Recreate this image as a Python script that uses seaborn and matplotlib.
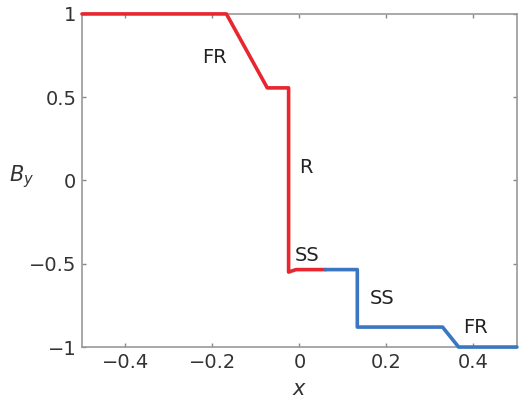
import matplotlib
matplotlib.use("Agg")
import matplotlib.pyplot as plt
import seaborn as sns
import pandas as pd

# red segment (left part)
red_x = [-0.5, -0.168, -0.074, -0.025, -0.025, -0.008, 0.06]
red_y = [1.0, 1.0, 0.556, 0.556, -0.55, -0.535, -0.535]
# blue segment (right part)
blue_x = [0.06, 0.133, 0.133, 0.329, 0.366, 0.5]
blue_y = [-0.535, -0.535, -0.88, -0.88, -1.0, -1.0]

labels = ["FR", "R", "SS", "SS", "FR"]
label_x = [-0.195, 0.015, 0.018, 0.19, 0.405]
label_y = [0.74, 0.08, -0.45, -0.71, -0.88]

sns.set_style("white")
plt.rcParams['font.family'] = ['DejaVu Sans']

fig = plt.figure(figsize=(5.19, 3.98), dpi=100)
ax = fig.add_axes([0.158, 0.128, 0.838, 0.837])

df_r = pd.DataFrame({"x": red_x, "y": red_y})
df_b = pd.DataFrame({"x": blue_x, "y": blue_y})
sns.lineplot(data=df_r, x="x", y="y", sort=False, estimator=None, color="#e8262f", lw=2.6, ax=ax)
sns.lineplot(data=df_b, x="x", y="y", sort=False, estimator=None, color="#3a77c0", lw=2.6, ax=ax)
for ln in ax.lines:
    ln.set_clip_on(False)
    ln.set_zorder(3)

for t, lx, ly in zip(labels, label_x, label_y):
    ax.text(lx, ly, t, fontsize=14, ha="center", va="center", color="#222222")

ax.set_xlim(-0.5, 0.5)
ax.set_ylim(-1, 1)
ax.set_xticks([-0.4, -0.2, 0, 0.2, 0.4])
ax.set_xticklabels(["\u22120.4", "\u22120.2", "0", "0.2", "0.4"])
ax.set_yticks([-1, -0.5, 0, 0.5, 1])
ax.set_yticklabels(["\u22121", "\u22120.5", "0", "0.5", "1"])
ax.tick_params(direction="in", length=3, width=1, color="#888888", labelsize=14,
               labelcolor="#333333", pad=4, bottom=True, left=True, top=True, right=True)
for s in ax.spines.values():
    s.set_color("#999999")
    s.set_linewidth(1.2)
ax.set_xlabel("$x$", fontsize=15, color="#333333")
ax.xaxis.set_label_coords(0.5, -0.095)
ax.set_ylabel("$B_y$", fontsize=15, rotation=0, color="#333333")
ax.yaxis.set_label_coords(-0.14, 0.47)

fig.savefig("out.png", dpi=100)
